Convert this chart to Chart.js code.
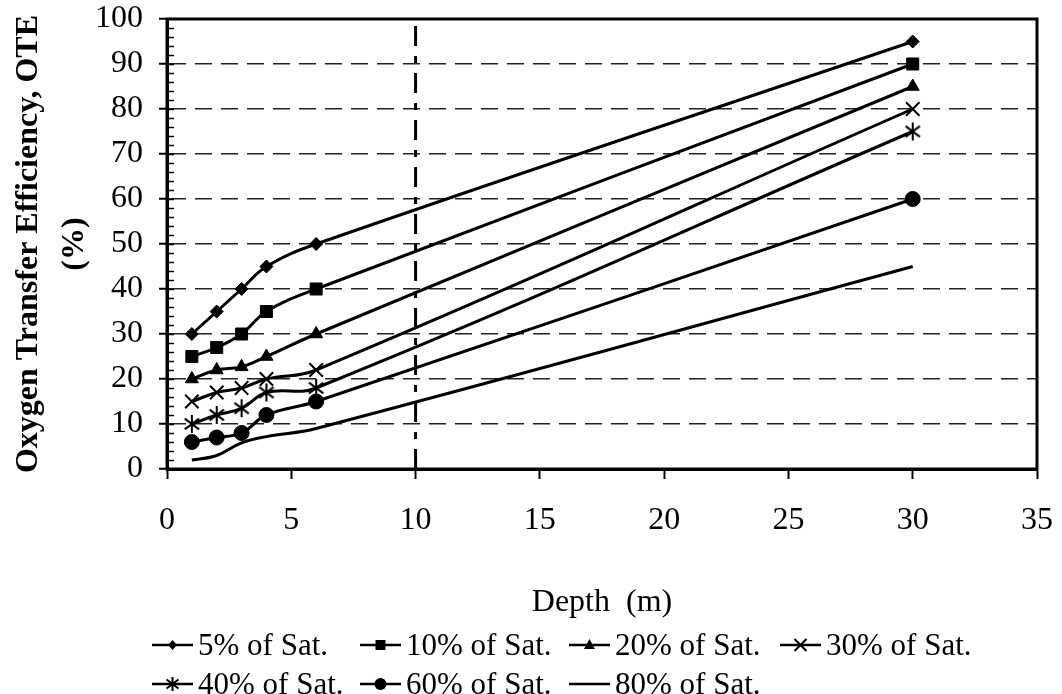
<!DOCTYPE html>
<html><head><meta charset="utf-8">
<script src="https://cdn.jsdelivr.net/npm/chart.js@4/dist/chart.umd.min.js"></script>
<style>
html,body{margin:0;padding:0;background:#fff;}
#wrap{position:relative;width:1062px;height:694px;overflow:hidden;}
#legend{position:absolute;left:0;top:0;width:1062px;height:694px;pointer-events:none;font-family:'Liberation Serif','Times New Roman',serif;font-size:31px;color:#000;}
.item{position:absolute;display:flex;align-items:center;white-space:nowrap;height:34px;line-height:34px;}
.item canvas{margin-right:5px;display:block;}
</style></head>
<body><div id="wrap"><canvas id="c" width="1062" height="694"></canvas><div id="legend"></div></div>
<script>
// ---- data ----
const depths = [1, 2, 3, 4, 6, 30];
const seriesLabels = ['5% of Sat.', '10% of Sat.', '20% of Sat.', '30% of Sat.', '40% of Sat.', '60% of Sat.', '80% of Sat.'];
const ote5  = [30, 35, 40, 45, 50, 95];
const ote10 = [25, 27, 30, 35, 40, 90];
const ote20 = [20, 22, 22.7, 25, 30, 85];
const ote30 = [15, 17, 18, 20, 22, 80];
const ote40 = [10, 12, 13.5, 17, 18, 75];
const ote60 = [6, 7, 8, 12, 15, 60];
const ote80 = [2, 3, 5.8, 7.2, 9, 45];
const xTickValues = [0, 5, 10, 15, 20, 25, 30, 35];
const yTickValues = [0, 10, 20, 30, 40, 50, 60, 70, 80, 90, 100];
const refDepth = 10;
const refRange = [0, 100];

const FONT = "'Liberation Serif', 'Times New Roman', serif";

// custom asterisk marker
function asterisk(r, lw) {
  const s = Math.ceil(2 * r + lw + 2);
  const c = document.createElement('canvas');
  c.width = s; c.height = s;
  const g = c.getContext('2d');
  g.strokeStyle = '#000'; g.lineWidth = lw; g.lineCap = 'butt';
  g.translate(s / 2, s / 2);
  g.beginPath();
  g.moveTo(0, -r); g.lineTo(0, r);
  const dx = r * 0.8, dy = r * 0.6;
  g.moveTo(-dx, -dy); g.lineTo(dx, dy);
  g.moveTo(-dx, dy); g.lineTo(dx, -dy);
  g.stroke();
  return c;
}

const seriesValues = [ote5, ote10, ote20, ote30, ote40, ote60, ote80];
const styles = [
  {pointStyle: 'rectRot', r: 6.5, bw: 1},
  {pointStyle: 'rect', r: 8.5, bw: 1},
  {pointStyle: 'triangle', r: 7.5, bw: 1},
  {pointStyle: 'crossRot', r: 9.5, bw: 2},
  {pointStyle: asterisk(9, 2), r: 9, bw: 2},
  {pointStyle: 'circle', r: 7.5, bw: 1},
  {pointStyle: false, r: 0, bw: 0}
];

const datasets = seriesValues.map((vals, i) => ({
  label: seriesLabels[i],
  data: depths.map((d, k) => ({x: d, y: vals[k]})),
  borderColor: '#000',
  backgroundColor: '#000',
  borderWidth: 3,
  tension: 0.4,
  pointStyle: styles[i].pointStyle,
  pointRadius: styles[i].r,
  pointHoverRadius: styles[i].r,
  pointBorderWidth: styles[i].bw,
  pointBackgroundColor: '#000',
  pointBorderColor: '#000',
  fill: false
}));

datasets.push({
  label: 'ref',
  data: refRange.map(v => ({x: refDepth, y: v})),
  borderColor: '#000',
  borderWidth: 3,
  borderDash: [20, 10, 7, 10],
  pointRadius: 0,
  tension: 0,
  fill: false
});

const framePlugin = {
  id: 'frame',
  afterDraw(chart) {
    const {ctx, chartArea: a, scales} = chart;
    ctx.save();
    ctx.strokeStyle = '#000';
    ctx.lineWidth = 1.5;
    const ys = scales.y;
    ctx.beginPath();
    for (let v = 2; v < 100; v += 2) {
      const py = Math.round(ys.getPixelForValue(v)) + 0.5;
      ctx.moveTo(a.left, py); ctx.lineTo(a.left + 7, py);
    }
    ctx.stroke();
    ctx.lineWidth = 3;
    ctx.strokeRect(a.left, a.top, a.right - a.left, a.bottom - a.top);
    ctx.restore();
  }
};

new Chart(document.getElementById('c'), {
  type: 'line',
  data: {datasets},
  plugins: [framePlugin],
  options: {
    responsive: false,
    animation: false,
    devicePixelRatio: 1,
    layout: {padding: {top: 19, right: 25, left: 0, bottom: 0}},
    plugins: {legend: {display: false}, tooltip: {enabled: false}},
    scales: {
      x: {
        type: 'linear', min: 0, max: 35,
        afterBuildTicks: s => { s.ticks = xTickValues.map(v => ({value: v})); },
        afterFit: s => { s.height = 225; s.paddingLeft = 0; s.paddingRight = 0; },
        ticks: {font: {family: FONT, size: 32}, color: '#000', padding: 22, maxRotation: 0},
        grid: {drawOnChartArea: false, drawTicks: true, tickLength: 10, tickWidth: 2, tickColor: '#000'},
        border: {display: true, color: '#000', width: 3},
        title: {display: true, text: 'Depth  (m)', color: '#000', font: {family: FONT, size: 32}, padding: {top: 0, bottom: 72}}
      },
      y: {
        type: 'linear', min: 0, max: 100,
        afterBuildTicks: s => { s.ticks = yTickValues.map(v => ({value: v})); },
        afterFit: s => { s.width = 167; s.paddingTop = 0; s.paddingBottom = 0; },
        ticks: {font: {family: FONT, size: 32}, color: '#000', padding: 16},
        grid: {color: '#222', lineWidth: 1.5, drawTicks: true, tickLength: 8, tickWidth: 2, tickColor: '#000', tickBorderDash: []},
        border: {display: true, color: '#000', width: 3, dash: [17, 9]},
        title: {display: true, text: ['Oxygen Transfer Efficiency, OTE', '(%)'], color: '#000',
                font: {family: FONT, size: 32, weight: 'bold', lineHeight: '46px'}, padding: {top: 6, bottom: 0}}
      }
    }
  }
});

// ---- HTML legend built from dataset labels ----
function legendSymbol(i) {
  const c = document.createElement('canvas');
  c.width = 41; c.height = 20;
  const g = c.getContext('2d');
  g.strokeStyle = '#000'; g.fillStyle = '#000';
  g.lineWidth = 2.5;
  g.beginPath(); g.moveTo(0, 10); g.lineTo(41, 10); g.stroke();
  const cx = 20.5, cy = 10;
  g.beginPath();
  if (i === 0) { g.moveTo(cx, cy - 5); g.lineTo(cx + 4.5, cy); g.lineTo(cx, cy + 5); g.lineTo(cx - 4.5, cy); g.closePath(); g.fill(); }
  else if (i === 1) { g.fillRect(cx - 5, cy - 5, 10, 10); }
  else if (i === 2) { g.moveTo(cx, cy - 6); g.lineTo(cx + 5.5, cy + 4); g.lineTo(cx - 5.5, cy + 4); g.closePath(); g.fill(); }
  else if (i === 3) { g.lineWidth = 2; g.moveTo(cx - 6, cy - 6); g.lineTo(cx + 6, cy + 6); g.moveTo(cx - 6, cy + 6); g.lineTo(cx + 6, cy - 6); g.stroke(); }
  else if (i === 4) { g.lineWidth = 2; g.moveTo(cx, cy - 7); g.lineTo(cx, cy + 7); g.moveTo(cx - 6, cy - 4.5); g.lineTo(cx + 6, cy + 4.5); g.moveTo(cx - 6, cy + 4.5); g.lineTo(cx + 6, cy - 4.5); g.stroke(); }
  else if (i === 5) { g.arc(cx, cy, 6, 0, Math.PI * 2); g.fill(); }
  return c;
}
const legendCols = [152, 360, 569, 780];
const legendRows = [645, 684];
const legendEl = document.getElementById('legend');
seriesLabels.forEach((lab, i) => {
  const d = document.createElement('div');
  d.className = 'item';
  d.style.left = legendCols[i % 4] + 'px';
  d.style.top = (legendRows[Math.floor(i / 4)] - 17) + 'px';
  d.appendChild(legendSymbol(i));
  const s = document.createElement('span');
  s.textContent = lab;
  d.appendChild(s);
  legendEl.appendChild(d);
});
</script>
</body></html>
